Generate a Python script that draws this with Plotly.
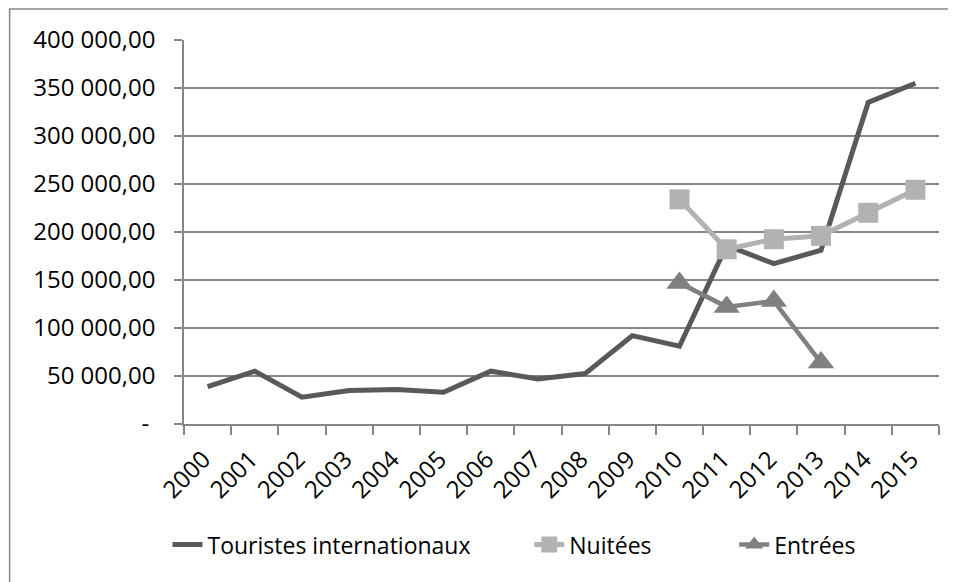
import plotly.graph_objects as go

years = [str(y) for y in range(2000, 2016)]
touristes = [39000, 55000, 28000, 35000, 36000, 33000, 55000, 47000, 52500, 92000,
             81000, 186000, 167000, 181000, 335000, 355000]
nuitees = [None] * 10 + [234000, 182000, 192500, 196000, 220000, 244000]
entrees = [None] * 10 + [147000, 122000, 128000, 64000, None, None]

y_tickvals = [0, 50000, 100000, 150000, 200000, 250000, 300000, 350000, 400000]
y_ticktext = ["-\u00a0", "50 000,00", "100 000,00", "150 000,00", "200 000,00",
              "250 000,00", "300 000,00", "350 000,00", "400 000,00"]

NB = "\u00a0"
names = ["Touristes internationaux" + NB * 9, "Nuitées" + NB * 13, "Entrées"]

FONT = "Open Sans, Liberation Sans, sans-serif"
GRID = "#868686"

fig = go.Figure()
fig.add_trace(go.Scatter(x=years, y=touristes, name=names[0],
                         mode="lines", line=dict(color="#595959", width=5)))
fig.add_trace(go.Scatter(x=years, y=nuitees, name=names[1],
                         mode="lines+markers",
                         line=dict(color="#b2b2b2", width=5),
                         marker=dict(symbol="square", size=20, color="#b2b2b2")))
fig.add_trace(go.Scatter(x=years, y=entrees, name=names[2],
                         mode="lines+markers",
                         line=dict(color="#808080", width=4.5),
                         marker=dict(symbol="triangle-up", size=23, color="#808080")))

# page body has an 8px margin: canvas starts at (8, 8) on screen
OFF = 8
W, H = 956 - OFF, 582 - OFF
L, R, T, B = 183.5 - OFF, 939 - OFF, 40 - OFF, 424.3 - OFF
pw, ph = R - L, B - T


def px_x(x):
    return (x - OFF - L) / pw


def px_y(y):
    return (B - (y - OFF)) / ph


fig.update_layout(
    width=W, height=H,
    margin=dict(l=L, r=W - R, t=T, b=H - B, pad=0),
    paper_bgcolor="white", plot_bgcolor="white",
    font=dict(family=FONT, size=23, color="black"),
    showlegend=True,
    legend=dict(orientation="h", x=px_x(167), xanchor="left",
                y=px_y(545), yanchor="middle",
                font=dict(family=FONT, size=23, color="black"),
                traceorder="normal", bgcolor="rgba(0,0,0,0)"),
    xaxis=dict(type="category", range=[-0.5, 15.5], tickson="boundaries",
               showgrid=False, showline=True, linecolor=GRID, linewidth=1.5,
               ticks="outside", ticklen=9, tickcolor=GRID, tickwidth=1.5,
               tickangle=-45, ticklabelstandoff=10, ticklabelshift=-4,
               tickfont=dict(family=FONT, size=24, color="black"),
               zeroline=False),
    yaxis=dict(range=[0, 400000], tickvals=y_tickvals, ticktext=y_ticktext,
               showgrid=True, gridcolor=GRID, gridwidth=1.5,
               showline=True, linecolor=GRID, linewidth=1.5,
               ticks="outside", ticklen=8, tickcolor=GRID, tickwidth=1.5,
               ticklabelstandoff=14,
               tickfont=dict(family=FONT, size=24, color="black"),
               zeroline=False),
    shapes=[dict(type="rect", xref="paper", yref="paper",
                 x0=px_x(9), x1=px_x(1000), y0=px_y(640), y1=px_y(9),
                 line=dict(color=GRID, width=1.5), fillcolor="rgba(0,0,0,0)",
                 layer="below")],
)

fig.write_html("out.html")
